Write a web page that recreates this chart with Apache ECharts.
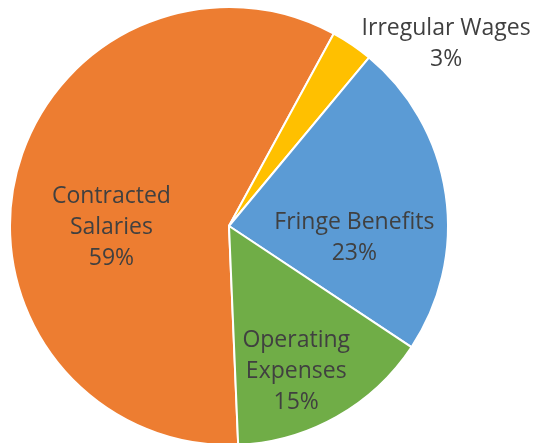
<!DOCTYPE html>
<html>
<head>
<meta charset="utf-8">
<script src="https://cdn.jsdelivr.net/npm/echarts@6/dist/echarts.min.js"></script>
<style>
  html, body { margin: 0; padding: 0; background: #fff; }
  #chart { width: 535px; height: 443px; }
</style>
</head>
<body>
<div id="chart"></div>
<script>
// budget share by category (percent)
var categories = ['Contracted Salaries', 'Irregular Wages', 'Fringe Benefits', 'Operating Expenses'];
var shares = [58.6, 3.1, 23.3, 15.0];
var colors = ['#ED7D31', '#FFC000', '#5B9BD5', '#70AD47'];

// label nudges from the default inside spot
var labelOffsets = {
    'Contracted Salaries': [-8, 27],
    'Irregular Wages': [154, -89],
    'Fringe Benefits': [14, 28],
    'Operating Expenses': [12, 47]
};
// how each label breaks into lines
var labelLines = {
    'Contracted Salaries': 'Contracted\nSalaries',
    'Irregular Wages': 'Irregular Wages',
    'Fringe Benefits': 'Fringe Benefits',
    'Operating Expenses': 'Operating\nExpenses'
};

var chart = echarts.init(document.getElementById('chart'));

var pieData = categories.map(function (name, i) {
    return {
        name: name,
        value: shares[i],
        itemStyle: { color: colors[i] },
        label: { offset: labelOffsets[name] }
    };
});

chart.setOption({
    animation: false,
    series: [{
        type: 'pie',
        center: [229, 226],
        radius: 219,
        startAngle: 90 - 177.6,
        clockwise: true,
        percentPrecision: 0,
        itemStyle: { borderColor: '#fff', borderWidth: 2 },
        label: {
            show: true,
            position: 'inside',
            color: '#404040',
            fontFamily: 'Open Sans',
            fontSize: 23,
            lineHeight: 31,
            align: 'center',
            formatter: function (p) {
                return labelLines[p.name] + '\n' + p.percent + '%';
            }
        },
        labelLine: { show: false },
        emphasis: { disabled: true },
        data: pieData
    }]
});
</script>
</body>
</html>
